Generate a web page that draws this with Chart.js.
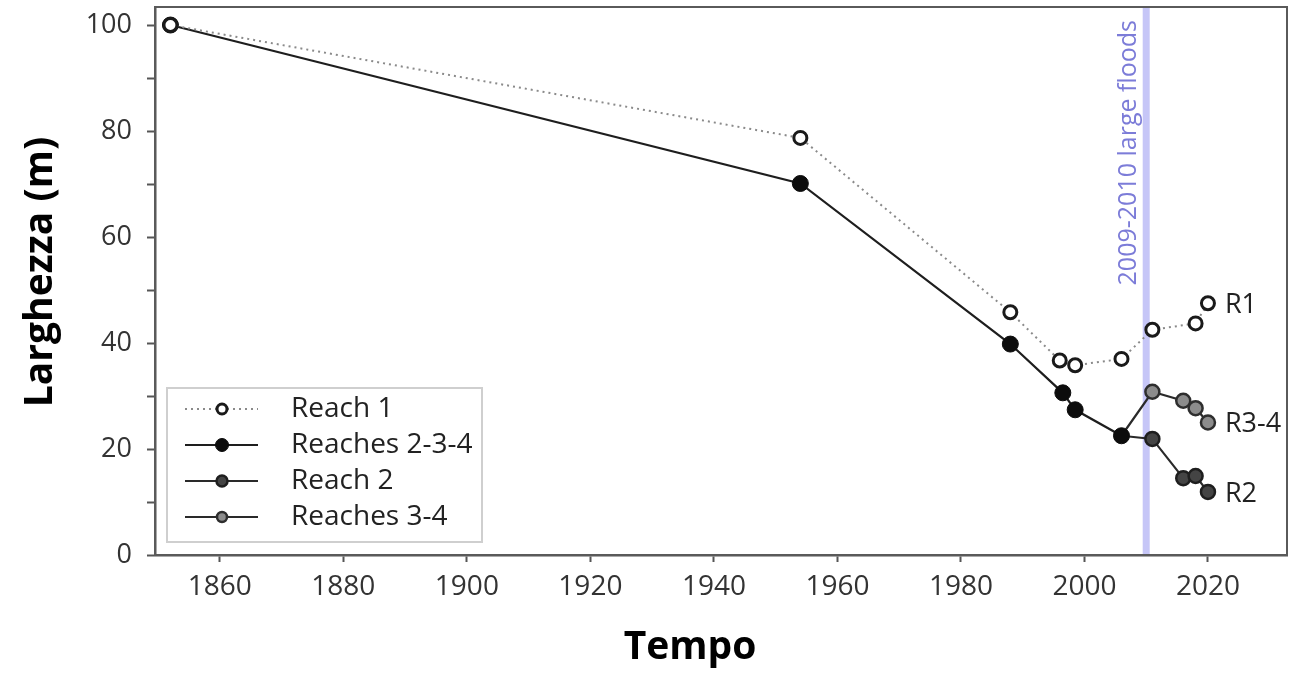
<!DOCTYPE html>
<html>
<head>
<meta charset="utf-8">
<script src="https://cdn.jsdelivr.net/npm/chart.js@4"></script>
<style>
  body { margin: 0; background: #fff; }
  #wrap { width: 1290px; height: 674px; }
</style>
</head>
<body>
<div id="wrap"><canvas id="grafico" width="1290" height="674"></canvas></div>
<script>
// dati
const anniR1 = [1852, 1954, 1988, 1996, 1998.5, 2006, 2011, 2018, 2020];
const larghezzaR1 = [100, 78.7, 45.8, 36.7, 35.8, 37.0, 42.5, 43.7, 47.5];
const anniR234 = [1852, 1954, 1988, 1996.5, 1998.5, 2006];
const larghezzaR234 = [100, 70.1, 39.8, 30.6, 27.4, 22.5];
const anniR2 = [2006, 2011, 2016, 2018, 2020];
const larghezzaR2 = [22.5, 21.9, 14.5, 14.9, 11.9];
const anniR34 = [2006, 2011, 2016, 2018, 2020];
const larghezzaR34 = [22.5, 30.8, 29.1, 27.7, 25.0];
const nomiSerie = ['Reach 1', 'Reaches 2-3-4', 'Reach 2', 'Reaches 3-4'];
const etichetteFine = ['R1', '', 'R2', 'R3-4'];
const tickAnni = [1860, 1880, 1900, 1920, 1940, 1960, 1980, 2000, 2020];
const tickLarghezza = [0, 10, 20, 30, 40, 50, 60, 70, 80, 90, 100];
const annoPiena = 2010;
const testoPiena = '2009-2010 large floods';

const punti = (xs, ys) => xs.map((x, i) => ({ x: x, y: ys[i] }));
const FONT = '"Open Sans", sans-serif';
const nessunMargine = s => { s.paddingLeft = 0; s.paddingRight = 0; s.paddingTop = 0; s.paddingBottom = 0; };

// piena, riquadro, legenda, etichette e titoli assi
const extra = {
  id: 'extra',
  beforeDatasetsDraw(chart) {
    const { ctx, chartArea: a, scales: { x } } = chart;
    const px = x.getPixelForValue(annoPiena);
    ctx.save();
    ctx.fillStyle = '#c6c6f7';
    ctx.fillRect(px - 3.5, a.top, 7, a.bottom - a.top);
    ctx.translate(px - 10, a.top + 13);
    ctx.rotate(-Math.PI / 2);
    ctx.fillStyle = '#7c7cd8';
    ctx.font = '25px ' + FONT;
    ctx.textAlign = 'right';
    ctx.textBaseline = 'alphabetic';
    ctx.fillText(testoPiena, 0, 0);
    ctx.restore();
  },
  afterDraw(chart) {
    const { ctx, chartArea: a, scales: { x, y } } = chart;
    const ds = chart.data.datasets;
    ctx.save();
    // cornice
    ctx.strokeStyle = '#5a5a5a';
    ctx.lineWidth = 2;
    ctx.strokeRect(a.left, a.top, a.right - a.left, a.bottom - a.top);

    // etichette a destra delle serie
    ctx.font = '27px ' + FONT;
    ctx.fillStyle = '#222';
    ctx.textBaseline = 'middle';
    ctx.textAlign = 'left';
    ds.forEach((d, i) => {
      if (!etichetteFine[i]) return;
      const ultimo = d.data[d.data.length - 1];
      ctx.fillText(etichetteFine[i], x.getPixelForValue(ultimo.x) + 17, y.getPixelForValue(ultimo.y) + 2);
    });

    // legenda
    const lx = a.left + 12, ly = a.bottom - 167;
    ctx.fillStyle = '#fff';
    ctx.fillRect(lx, ly, 315, 154);
    ctx.strokeStyle = '#cfcfcf';
    ctx.lineWidth = 2;
    ctx.strokeRect(lx, ly, 315, 154);
    ds.forEach((d, i) => {
      const ry = ly + 21 + i * 36;
      ctx.beginPath();
      ctx.strokeStyle = d.borderColor;
      ctx.lineWidth = d.borderWidth;
      ctx.setLineDash(d.borderDash || []);
      ctx.moveTo(lx + 18, ry);
      ctx.lineTo(lx + 91, ry);
      ctx.stroke();
      ctx.setLineDash([]);
      ctx.beginPath();
      ctx.arc(lx + 55, ry, d.legendRadius, 0, Math.PI * 2);
      ctx.fillStyle = d.pointBackgroundColor;
      ctx.fill();
      ctx.lineWidth = d.pointBorderWidth;
      ctx.strokeStyle = d.pointBorderColor;
      ctx.stroke();
      ctx.fillStyle = '#222';
      ctx.font = '28px ' + FONT;
      ctx.textAlign = 'left';
      ctx.textBaseline = 'middle';
      ctx.fillText(d.label, lx + 124, ry);
    });

    // titoli assi
    ctx.fillStyle = '#000';
    ctx.font = 'bold 39px ' + FONT;
    ctx.textAlign = 'center';
    ctx.textBaseline = 'middle';
    ctx.fillText('Tempo', 690, 648);
    ctx.translate(41, 272);
    ctx.rotate(-Math.PI / 2);
    ctx.fillText('Larghezza (m)', 0, 0);
    ctx.restore();
  }
};

new Chart(document.getElementById('grafico'), {
  type: 'line',
  data: {
    datasets: [
      {
        label: nomiSerie[0],
        data: punti(anniR1, larghezzaR1),
        borderColor: '#8a8a8a',
        borderWidth: 2,
        borderDash: [2, 4],
        pointRadius: 6.5,
        legendRadius: 5,
        pointBackgroundColor: '#fff',
        pointBorderColor: '#1a1a1a',
        pointBorderWidth: 3
      },
      {
        label: nomiSerie[1],
        data: punti(anniR234, larghezzaR234),
        borderColor: '#1e1e1e',
        borderWidth: 2.2,
        pointRadius: 8,
        legendRadius: 6.5,
        pointBackgroundColor: '#0c0c0c',
        pointBorderColor: '#0c0c0c',
        pointBorderWidth: 1
      },
      {
        label: nomiSerie[2],
        data: punti(anniR2, larghezzaR2),
        borderColor: '#2a2a2a',
        borderWidth: 2.2,
        pointRadius: [0, 7, 7, 7, 7],
        legendRadius: 5.5,
        pointBackgroundColor: '#444',
        pointBorderColor: '#1e1e1e',
        pointBorderWidth: 2.5
      },
      {
        label: nomiSerie[3],
        data: punti(anniR34, larghezzaR34),
        borderColor: '#2a2a2a',
        borderWidth: 2.2,
        pointRadius: [0, 7, 7, 7, 7],
        legendRadius: 5,
        pointBackgroundColor: '#8c8c8c',
        pointBorderColor: '#2e2e2e',
        pointBorderWidth: 2.5
      }
    ]
  },
  options: {
    responsive: false,
    animation: false,
    clip: false,
    layout: { autoPadding: false, padding: { top: 7, right: 3 } },
    plugins: { legend: { display: false }, tooltip: { enabled: false } },
    scales: {
      x: {
        type: 'linear',
        min: 1849.5,
        max: 2032.8,
        afterFit: s => { s.height = 119; nessunMargine(s); },
        afterBuildTicks: s => { s.ticks = tickAnni.map(v => ({ value: v })); },
        border: { color: '#555', width: 2.5 },
        grid: { drawOnChartArea: false, tickLength: 7, tickColor: '#555', tickWidth: 2 },
        ticks: { color: '#333', font: { family: FONT, size: 28 }, padding: 8, maxRotation: 0, callback: v => String(v) }
      },
      y: {
        min: 0,
        max: 103.4,
        afterFit: s => { s.width = 155; nessunMargine(s); },
        afterBuildTicks: s => { s.ticks = tickLarghezza.map(v => ({ value: v })); },
        border: { color: '#555', width: 2.5 },
        grid: { drawOnChartArea: false, tickLength: 8, tickColor: '#555', tickWidth: 2 },
        ticks: { color: '#333', font: { family: FONT, size: 27 }, padding: 15, callback: v => (v % 20 === 0 ? String(v) : '') }
      }
    }
  },
  plugins: [extra]
});
</script>
</body>
</html>
